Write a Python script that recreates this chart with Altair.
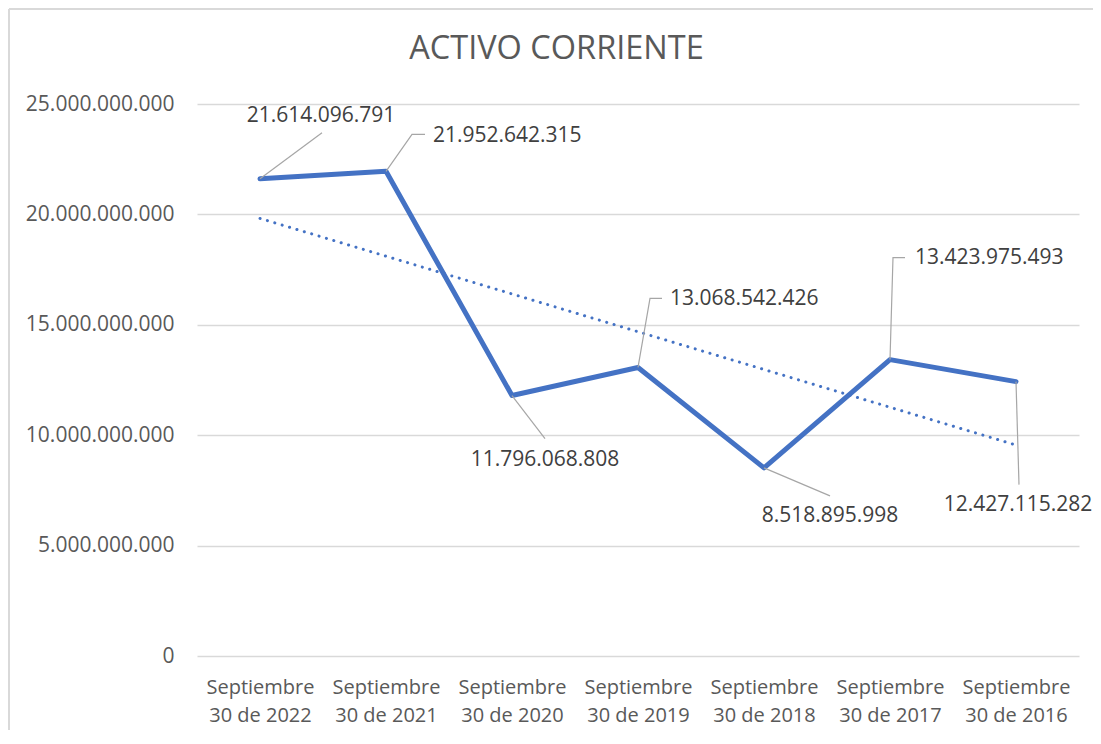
import json
import altair as alt
import pandas as pd

# ---------------- data ----------------
title_text = "ACTIVO CORRIENTE"
label_line1 = ["Septiembre"] * 7
label_line2 = ["30 de 2022", "30 de 2021", "30 de 2020", "30 de 2019",
               "30 de 2018", "30 de 2017", "30 de 2016"]
values = [21614096791, 21952642315, 11796068808, 13068542426,
          8518895998, 13423975493, 12427115282]
y_ticks = [0, 5000000000, 10000000000, 15000000000, 20000000000, 25000000000]

# ---------------- label layout (pixel offsets from each point) ----------------
label_dx = [61, 47, 33, 32, 66, 25, 2]
label_dy = [-63, -35, 64, -68, 48, -102, 123]
label_align = ["center", "left", "center", "left", "center", "left", "center"]
leader_pts = [
    [(0, 0), (62, -46)],
    [(0, 0), (26, -37), (39, -37)],
    [(0, 0), (33, 43)],
    [(0, 0), (12, -69), (24, -69)],
    [(0, 0), (66, 28)],
    [(0, 0), (3, -102), (15, -102)],
    [(0, 0), (3, 103)],
]

W, H = 882, 552
YMAX = 25000000000
PX_X = W / 7.0
PX_Y = H / YMAX
FONT = "Open Sans"
BLUE = "#4472C4"

idx = list(range(1, 8))
df = pd.DataFrame({
    "idx": idx,
    "value": values,
    "lx": [i + dx / PX_X for i, dx in zip(idx, label_dx)],
    "ly": [v - dy / PX_Y for v, dy in zip(values, label_dy)],
    "align": label_align,
})

rows = []
for k, pts in enumerate(leader_pts):
    for s, (dx, dy) in enumerate(pts):
        rows.append({"id": k, "seq": s,
                     "x": idx[k] + dx / PX_X,
                     "y": values[k] - dy / PX_Y})
leaders = pd.DataFrame(rows)

x_labels = [[a, b] for a, b in zip(label_line1, label_line2)]
x_expr = json.dumps(x_labels) + "[datum.value - 1]"

xscale = alt.Scale(domain=[0.5, 7.5], nice=False, zero=False)
yscale = alt.Scale(domain=[0, YMAX], nice=False)

x_axis = alt.Axis(values=idx, labelExpr=x_expr, grid=False, domain=False,
                  ticks=False, tickSize=0, labelPadding=21, labelFontSize=20,
                  labelFont=FONT, labelColor="#595959", labelLineHeight=28,
                  title=None)
y_axis = alt.Axis(values=y_ticks, format=",d", grid=True, gridColor="#D9D9D9",
                  gridWidth=1.3, domain=False, ticks=False, tickSize=0,
                  labelPadding=23, labelFontSize=21, labelFont=FONT,
                  labelColor="#595959", title=None)

base = alt.Chart(df)

line = base.mark_line(color=BLUE, strokeWidth=5, strokeCap="round",
                      strokeJoin="round").encode(
    x=alt.X("idx:Q", scale=xscale, axis=x_axis),
    y=alt.Y("value:Q", scale=yscale, axis=y_axis),
)

trend = base.transform_regression("idx", "value", extent=[1, 7]).mark_line(
    color=BLUE, strokeWidth=3, strokeDash=[0.1, 7.6], strokeCap="round"
).encode(
    x=alt.X("idx:Q", scale=xscale),
    y=alt.Y("value:Q", scale=yscale),
)

leader = alt.Chart(leaders).mark_line(color="#A6A6A6", strokeWidth=1.2).encode(
    x=alt.X("x:Q", scale=xscale),
    y=alt.Y("y:Q", scale=yscale),
    detail="id:N",
    order="seq:Q",
)

def text_layer(al):
    return base.transform_filter(alt.datum.align == al).mark_text(
        align=al, baseline="middle", font=FONT, fontSize=21, color="#404040"
    ).encode(
        x=alt.X("lx:Q", scale=xscale),
        y=alt.Y("ly:Q", scale=yscale),
        text=alt.Text("value:Q", format=",d"),
    )

one = pd.DataFrame({"t": [title_text]})

# chart-area border (top and left edges visible in the frame)
border_top = alt.Chart(one).mark_rule(color="#D9D9D9", strokeWidth=2).encode(
    x=alt.value(-188), x2=alt.value(W + 14), y=alt.value(-95), y2=alt.value(-95))
border_left = alt.Chart(one).mark_rule(color="#D9D9D9", strokeWidth=2).encode(
    x=alt.value(-188), x2=alt.value(-188), y=alt.value(-95), y2=alt.value(H + 74))

title = alt.Chart(one).mark_text(
    font=FONT, fontSize=32.5, color="#595959", align="center",
    baseline="alphabetic"
).encode(x=alt.value(359.5), y=alt.value(-45), text="t:N")

chart = alt.layer(
    border_top, border_left, title, trend, line, leader,
    text_layer("center"), text_layer("left")
).properties(
    width=W, height=H,
    padding={"left": 189, "top": 96, "right": 14, "bottom": 74},
    autosize=alt.AutoSizeParams(type="none"),
).configure(
    locale={"number": {"decimal": ",", "thousands": ".", "grouping": [3],
                       "currency": ["", ""]}}
).configure_view(stroke=None)

chart.save("out.html", embed_options={"renderer": "svg", "actions": False})
